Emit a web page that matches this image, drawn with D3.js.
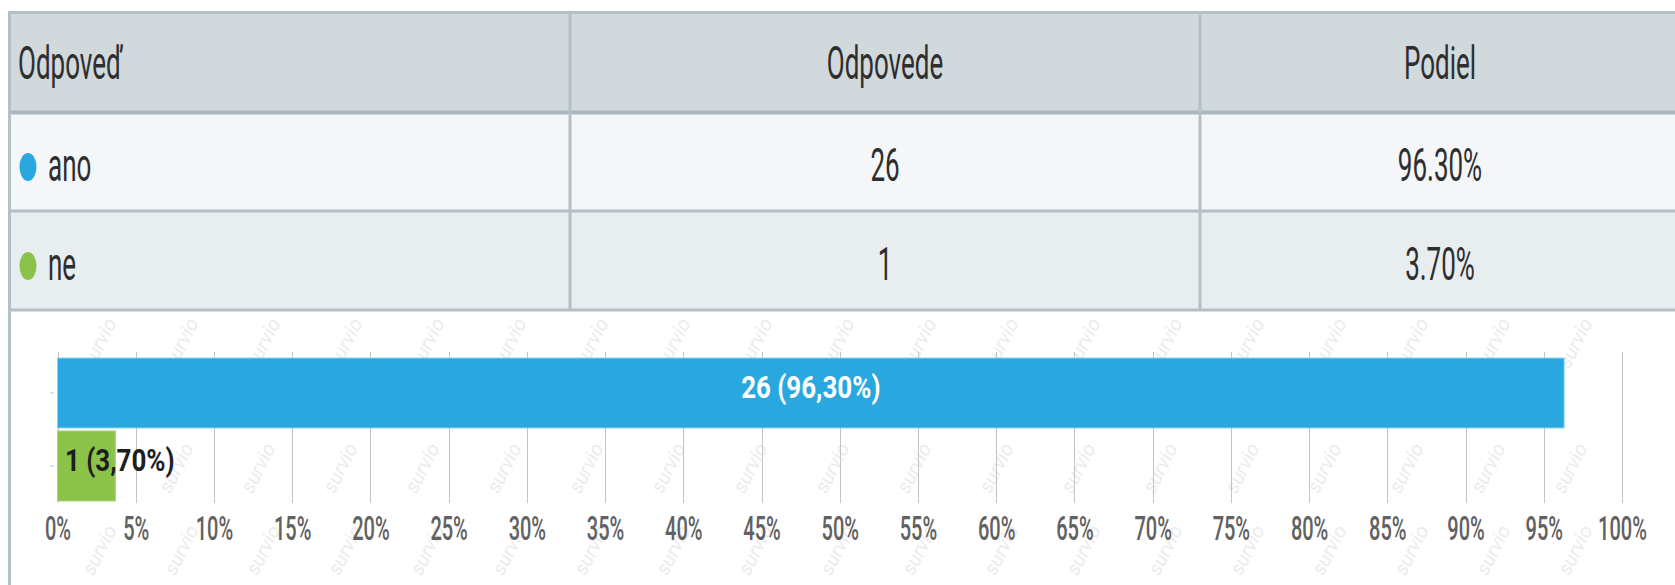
<!DOCTYPE html>
<html>
<head>
<meta charset="utf-8">
<script src="https://cdn.jsdelivr.net/npm/d3@7"></script>
<style>
  html, body { margin: 0; padding: 0; background: #ffffff; }
  svg { display: block; }
  text { font-family: Roboto, "Open Sans", sans-serif; }
</style>
</head>
<body>
<svg id="chart" width="1675" height="585"></svg>
<script>
// ---------- data ----------
const headers = ["Odpoveď", "Odpovede", "Podiel"];
const categories = ["ano", "ne"];
const counts = [26, 1];
const shares = [96.30, 3.70];
const tickValues = [0, 5, 10, 15, 20, 25, 30, 35, 40, 45, 50, 55, 60, 65, 70, 75, 80, 85, 90, 95, 100];
const tickLabels = tickValues.map(v => v + "%");
const watermarkText = "survio";

// ---------- styles / layout ----------
const W = 1675, H = 585;
const colors = { ano: "#29a8df", ne: "#8bc34a" };
const strokeColors = { ano: "#8fd3f2", ne: "#a9d47e" };
const colX = [8, 570, 1200, 1680];
const rowY = [11, 112, 211, 310];
const rowFill = ["#d1d9dd", "#f4f6f8", "#e8edf0"];
const lineColor = "#b3c0c6";

const svg = d3.select("#chart");

function txt(g, x, y, s, o) {
  return g.append("text")
    .attr("transform", `translate(${x},${y}) scale(${o.kx || 1},${o.ky || 1})`)
    .attr("text-anchor", o.anchor || "start")
    .style("font-size", o.size + "px")
    .style("font-weight", o.weight || 400)
    .style("font-style", o.style || "normal")
    .attr("fill", o.fill || "#333")
    .text(s);
}

// ---------- watermark (background) ----------
const wm = svg.append("g");
const wmRows = [343, 468, 550];
const wmCols = d3.range(0, 19).map(k => 99 + 82 * k);
wmRows.forEach((ry, ri) => {
  wmCols.forEach(cx => {
    wm.append("text")
      .attr("transform", `translate(${cx + (ri === 1 ? -5 : 0)},${ry}) rotate(-63)`)
      .attr("text-anchor", "middle")
      .attr("dy", "0.35em")
      .style("font-size", "20px")
      .style("font-style", "italic")
      .attr("fill", "#ececec")
      .text(watermarkText);
  });
});

// ---------- container left border ----------
svg.append("rect").attr("x", colX[0]).attr("y", rowY[0]).attr("width", 3).attr("height", H - rowY[0]).attr("fill", lineColor);

// ---------- table ----------
const table = svg.append("g");
for (let r = 0; r < 3; r++) {
  table.append("rect")
    .attr("x", colX[0]).attr("y", rowY[r])
    .attr("width", colX[3] - colX[0]).attr("height", rowY[r + 1] - rowY[r])
    .attr("fill", rowFill[r]);
}
// horizontal lines
rowY.forEach((yy, i) => {
  table.append("rect").attr("x", colX[0]).attr("y", yy - (i === 0 ? 0 : 1.5))
    .attr("width", colX[3] - colX[0]).attr("height", i === 1 ? 4 : 3)
    .attr("fill", i === 1 ? "#a9b8bf" : lineColor);
});
// vertical lines
colX.slice(0, 3).forEach((xx, i) => {
  table.append("rect").attr("x", xx - (i === 0 ? 0 : 1.5)).attr("y", rowY[0])
    .attr("width", 3).attr("height", rowY[3] - rowY[0]).attr("fill", lineColor);
});

const tOpt = { size: 26, kx: 1, ky: 1.8, fill: "#2e2e2e" };
txt(table, 18, 79, headers[0], tOpt);
txt(table, (colX[1] + colX[2]) / 2, 79, headers[1], Object.assign({}, tOpt, { anchor: "middle" }));
txt(table, (colX[2] + colX[3]) / 2, 79, headers[2], Object.assign({}, tOpt, { anchor: "middle" }));

const rowBase = [181, 280];
categories.forEach((c, i) => {
  table.append("ellipse").attr("cx", 28).attr("cy", rowBase[i] - 14).attr("rx", 8.5).attr("ry", 14).attr("fill", colors[c]);
  txt(table, 48, rowBase[i], c, tOpt);
  txt(table, (colX[1] + colX[2]) / 2, rowBase[i], String(counts[i]), Object.assign({}, tOpt, { anchor: "middle" }));
  txt(table, (colX[2] + colX[3]) / 2, rowBase[i], shares[i].toFixed(2) + "%", Object.assign({}, tOpt, { anchor: "middle" }));
});

// ---------- chart ----------
const x = d3.scaleLinear().domain([0, 100]).range([57.5, 1622]);
const y = d3.scaleBand().domain(categories).range([358, 501]).paddingInner(0.041).paddingOuter(0);

const chart = svg.append("g");

// gridlines
chart.append("g").selectAll("line").data(tickValues).join("line")
  .attr("x1", d => Math.round(x(d)) + 0.5).attr("x2", d => Math.round(x(d)) + 0.5)
  .attr("y1", 352).attr("y2", 503)
  .attr("stroke", "#c4c4c4").attr("stroke-width", 1);

// y ticks (tiny)
chart.append("g").selectAll("line").data(categories).join("line")
  .attr("x1", 50).attr("x2", 54)
  .attr("y1", d => y(d) + y.bandwidth() / 2).attr("y2", d => y(d) + y.bandwidth() / 2)
  .attr("stroke", "#a9cbe8").attr("stroke-width", 1);

// bars
chart.append("g").selectAll("rect").data(categories).join("rect")
  .attr("x", x(0))
  .attr("y", d => y(d))
  .attr("width", (d, i) => x(shares[i]) - x(0))
  .attr("height", y.bandwidth())
  .attr("fill", d => colors[d])
  .attr("stroke", d => strokeColors[d])
  .attr("stroke-width", 1);

// bar labels
const lab = chart.append("g");
categories.forEach((c, i) => {
  const s = `${counts[i]} (${shares[i].toFixed(2).replace(".", ",")}%)`;
  const cy = y(c) + y.bandwidth() / 2 + 5;
  if (i === 0) {
    txt(lab, (x(0) + x(shares[i])) / 2, cy, s, { size: 24, weight: 700, kx: 1.08, ky: 1.29, fill: "#ffffff", anchor: "middle" });
  } else {
    txt(lab, x(0) + 7.5, cy, s, { size: 24, weight: 700, kx: 1.08, ky: 1.29, fill: "#1e1e1e", anchor: "start" });
  }
});

// x axis tick labels
const axis = d3.axisBottom(x).tickValues(tickValues).tickFormat((d, i) => tickLabels[i]).tickSize(0);
const axG = chart.append("g").attr("transform", "translate(0,0)").call(axis);
axG.select(".domain").remove();
axG.selectAll(".tick text").each(function () {
  const t = d3.select(this);
  t.attr("y", null).attr("dy", null)
    .attr("transform", "translate(0,540) scale(1,1.62)")
    .style("font-size", "20px")
    .style("font-family", "Roboto, sans-serif")
    .style("font-weight", 500)
    .attr("fill", "#616161");
});
</script>
</body>
</html>
